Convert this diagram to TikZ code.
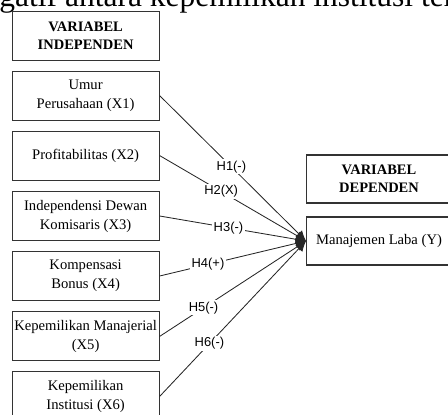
\documentclass[tikz,border=0pt]{standalone}
\usepackage{fontspec}
\setmainfont{Liberation Serif}
\setsansfont{Liberation Sans}
\usetikzlibrary{arrows.meta}

\begin{document}
\begin{tikzpicture}[
    varbox/.style={draw=black!80, line width=0.8pt, align=center, minimum width=3.675cm, minimum height=1.225cm, inner sep=1pt, font=\fontsize{10.4}{13.5}\selectfont},
    headbox/.style={varbox, font=\fontsize{10.3}{13}\selectfont\bfseries},
    hyp/.style={fill=white, inner sep=1pt, font=\sffamily\fontsize{9.2}{11}\selectfont},
    link/.style={draw=black!85, line width=0.6pt, -{Latex[length=2.6mm,width=2.4mm]}}
]
    \useasboundingbox (0,0) rectangle (11.2,10.35);
    \clip (0,0) rectangle (11.2,10.35);

    % text line above the figure
    \node[anchor=base west, inner sep=0pt, font=\fontsize{22.4}{26}\selectfont] (above) at (-0.02,10.2) {gatif antara kepemilikan institusi ter};

    % independent variables
    \node[headbox] (indep) at (2.14,9.45) {VARIABEL\\INDEPENDEN};
    \node[varbox] (x1) at (2.14,7.96) {Umur\\Perusahaan (X1)};
    \node[varbox] (x2) at (2.14,6.46) {Profitabilitas (X2)};
    \node[varbox] (x3) at (2.14,4.95) {Independensi Dewan\\Komisaris (X3)};
    \node[varbox] (x4) at (2.14,3.45) {Kompensasi\\Bonus (X4)};
    \node[varbox] (x5) at (2.14,1.94) {Kepemilikan Manajerial\\(X5)};
    \node[varbox] (x6) at (2.14,0.44) {Kepemilikan\\Institusi (X6)};

    % dependent variable
    \node[headbox, minimum width=3.62cm, minimum height=1.2cm] (dep) at (9.475,5.875) {VARIABEL\\DEPENDEN};
    \node[varbox, minimum width=3.62cm, minimum height=1.2cm] (y) at (9.475,4.325) {Manajemen Laba (Y)};

    % hypotheses
    \draw[link] (x1.east) -- node[hyp, pos=0.49] (h1) {H1(-)} (y.west);
    \draw[link] (x2.east) -- node[hyp, pos=0.42] (h2) {H2(X)} (y.west);
    \draw[link] (x3.east) -- node[hyp, pos=0.47] (h3) {H3(-)} (y.west);
    \draw[link] (x4.east) -- node[hyp, pos=0.33] (h4) {H4(+)} (y.west);
    \draw[link] (x5.east) -- node[hyp, pos=0.30] (h5) {H5(-)} (y.west);
    \draw[link] (x6.east) -- node[hyp, pos=0.34] (h6) {H6(-)} (y.west);
\end{tikzpicture}
\end{document}
